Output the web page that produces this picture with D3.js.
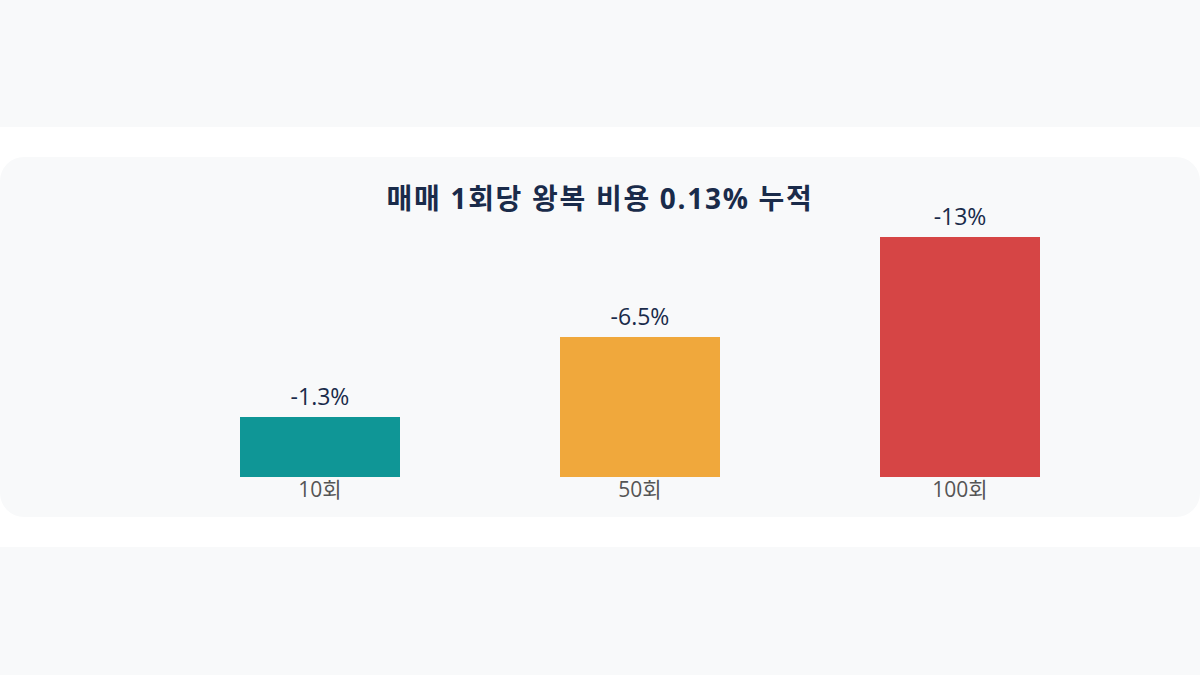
<!DOCTYPE html>
<html><head><meta charset="utf-8">
<script src="https://cdn.jsdelivr.net/npm/d3@7"></script>
<style>
html,body{margin:0;padding:0;background:#f8f9fa;}
svg{display:block;}
</style></head>
<body>
<svg id="chart" width="1200" height="675"></svg>
<script>
const title = "매매 1회당 왕복 비용 0.13% 누적";
const categories = ["10회", "50회", "100회"];
const values = [1.3, 6.5, 13];
const valueLabels = ["-1.3%", "-6.5%", "-13%"];
const colors = ["#0f9696", "#f0a83c", "#d64545"];

const svg = d3.select("#chart");
const font = "'Open Sans','Noto Sans CJK KR',sans-serif";

svg.append("rect").attr("x",0).attr("y",0).attr("width",1200).attr("height",675).attr("fill","#f8f9fa");
svg.append("rect").attr("x",0).attr("y",127).attr("width",1200).attr("height",420).attr("fill","#ffffff");
svg.append("rect").attr("x",0).attr("y",157).attr("width",1200).attr("height",360).attr("rx",24).attr("fill","#f8f9fa");

svg.append("text").attr("x",600).attr("y",209).attr("text-anchor","middle")
  .attr("font-family",font).attr("font-size",28).attr("font-weight",700)
  .attr("letter-spacing",1.7)
  .attr("fill","#1a2b4a").text(title);

const x = d3.scaleBand().domain(categories).range([160,1120]).paddingInner(0.5).paddingOuter(0.25);
const y = d3.scaleLinear().domain([-2.6, 13]).range([477, 237]);

const g = svg.append("g");
g.selectAll("rect.bar").data(categories).join("rect").attr("class","bar")
  .attr("x", d => x(d)).attr("width", x.bandwidth())
  .attr("y", (d,i) => y(values[i])).attr("height", (d,i) => y(-2.6) - y(values[i]))
  .attr("fill", (d,i) => colors[i]);

g.selectAll("text.val").data(categories).join("text").attr("class","val")
  .attr("x", d => x(d) + x.bandwidth()/2).attr("y", (d,i) => y(values[i]) - 12)
  .attr("text-anchor","middle").attr("font-family",font).attr("font-size",23)
  .attr("fill","#1a2b4a").text((d,i) => valueLabels[i]);

const axis = d3.axisBottom(x).tickSize(0).tickPadding(0);
const ax = svg.append("g").attr("transform","translate(0,477)").call(axis);
ax.select(".domain").remove();
ax.selectAll("text").attr("font-family",font).attr("font-size",21).attr("fill","#555555")
  .attr("dy",null).attr("y",20);
</script>
</body></html>
